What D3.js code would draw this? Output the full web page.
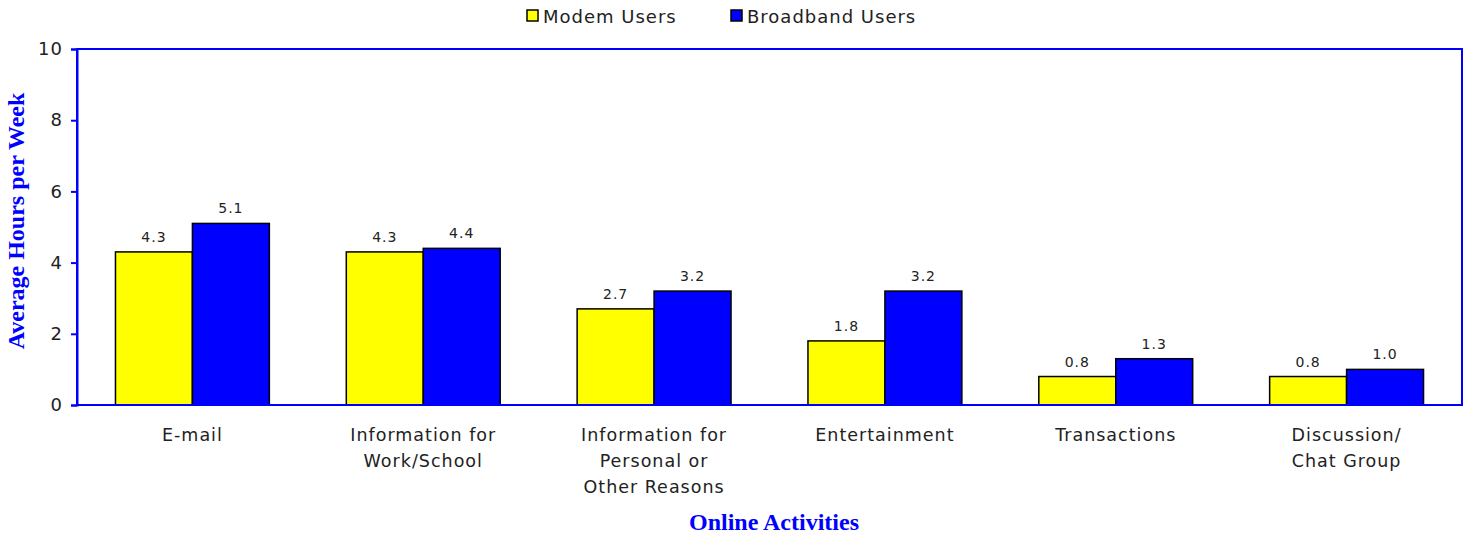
<!DOCTYPE html>
<html><head><meta charset="utf-8">
<script src="https://cdn.jsdelivr.net/npm/d3@7"></script>
<style>body{margin:0;background:#fff}</style>
</head><body>
<svg id="c" width="1470" height="536"></svg>
<script>
const categories = [["E-mail"],["Information for","Work/School"],["Information for","Personal or","Other Reasons"],["Entertainment"],["Transactions"],["Discussion/","Chat Group"]];
const seriesNames = ["Modem Users","Broadband Users"];
const modem = [4.3,4.3,2.7,1.8,0.8,0.8];
const broadband = [5.1,4.4,3.2,3.2,1.3,1.0];
const yTicks = [0,2,4,6,8,10];
const colors = ["#ffff00","#0000ff"];

const svg = d3.select("#c");
const m = {l:77,r:1462,t:49,b:405};
const x = d3.scaleBand().domain(d3.range(categories.length)).range([m.l,m.r]).paddingInner(1/3).paddingOuter(1/6);
const xs = d3.scaleBand().domain([0,1]).range([0,x.bandwidth()]);
const y = d3.scaleLinear().domain([0,10]).range([m.b,m.t]);
const font = "'DejaVu Sans', Verdana, sans-serif";

// bars
const series=[modem,broadband];
series.forEach((vals,si)=>{
  svg.append("g").selectAll("rect").data(vals).join("rect")
    .attr("x",(d,i)=>x(i)+xs(si)).attr("y",d=>y(d))
    .attr("width",xs.bandwidth()).attr("height",d=>y(0)-y(d))
    .attr("fill",colors[si]).attr("stroke","#000").attr("stroke-width",1.5);
  svg.append("g").selectAll("text").data(vals).join("text")
    .attr("x",(d,i)=>x(i)+xs(si)+xs.bandwidth()/2).attr("y",d=>y(d)-10)
    .attr("text-anchor","middle").attr("font-family",font).attr("font-size",14)
    .attr("letter-spacing",1).attr("fill","#222")
    .text(d=>d.toFixed(1));
});

// plot border
svg.append("rect").attr("x",m.l).attr("y",m.t).attr("width",m.r-m.l).attr("height",m.b-m.t)
  .attr("fill","none").attr("stroke","#0000ff").attr("stroke-width",2);

// y axis
const ya = svg.append("g").attr("transform",`translate(${m.l},0)`)
  .call(d3.axisLeft(y).tickValues(yTicks).tickSize(6).tickPadding(8).tickFormat(d3.format("d")));
ya.select(".domain").attr("stroke","#0000ff").attr("stroke-width",2);
ya.selectAll(".tick line").attr("stroke","#0000ff").attr("stroke-width",2);
ya.selectAll(".tick text").attr("font-family",font).attr("font-size",18)
  .attr("letter-spacing",1).attr("fill","#222");

// x labels
const xl = svg.append("g").selectAll("text").data(categories).join("text")
  .attr("text-anchor","middle").attr("font-family",font).attr("font-size",17.5)
  .attr("letter-spacing",1).attr("fill","#222");
xl.each(function(lines,i){
  d3.select(this).selectAll("tspan").data(lines).join("tspan")
    .attr("x",x(i)+x.bandwidth()/2).attr("y",(d,j)=>441+j*26).text(d=>d);
});

// titles
svg.append("text").attr("x",774).attr("y",530).attr("text-anchor","middle")
  .attr("font-family","'Liberation Serif', 'Times New Roman', serif").attr("font-weight","bold")
  .attr("font-size",24).attr("fill","#0000ff").text("Online Activities");
svg.append("text").attr("transform","translate(24,221) rotate(-90)").attr("text-anchor","middle")
  .attr("font-family","'Liberation Serif', 'Times New Roman', serif").attr("font-weight","bold")
  .attr("font-size",24).attr("fill","#0000ff").text("Average Hours per Week");

// legend
const lx=[527,731];
seriesNames.forEach((n,i)=>{
  svg.append("rect").attr("x",lx[i]).attr("y",10).attr("width",11).attr("height",11)
    .attr("fill",colors[i]).attr("stroke","#000").attr("stroke-width",1.5);
  svg.append("text").attr("x",lx[i]+16).attr("y",23).attr("font-family",font).attr("font-size",18)
    .attr("letter-spacing",1).attr("fill","#222").text(n);
});
</script>
</body></html>
